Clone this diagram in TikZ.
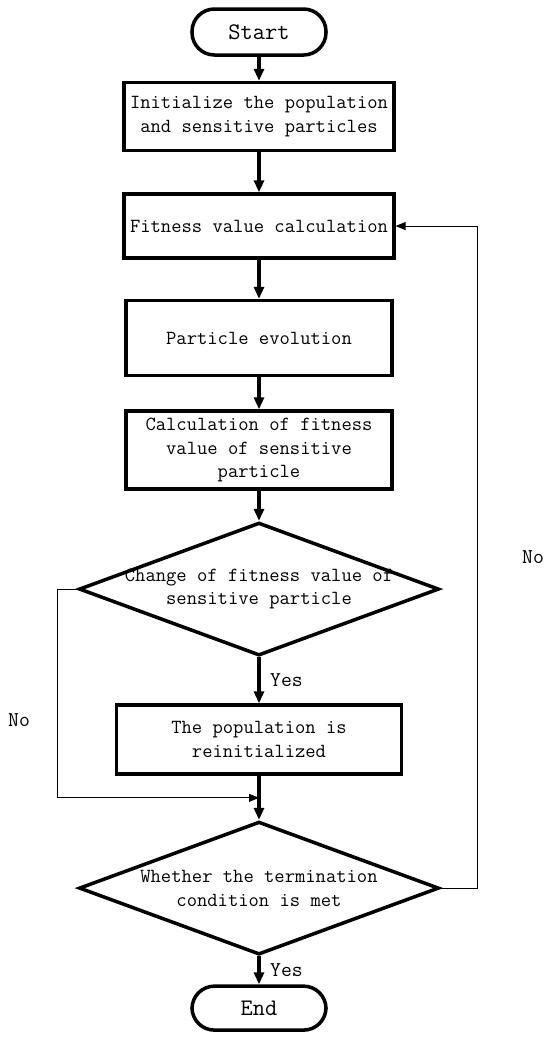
\documentclass[tikz,border=0pt]{standalone}
\usetikzlibrary{shapes.geometric, arrows.meta, positioning, calc}

\newcommand{\ctrline}[1]{\makebox[40mm][c]{#1}}

\begin{document}
\begin{tikzpicture}
  [
  % terminal
  term/.style = {rectangle,
    rounded corners = 4.5mm,
    draw, line width = 2pt,
    font = \fontsize{13.5}{16}\ttfamily,
    minimum width = 26.8mm,
    minimum height = 9.2mm},
  % block
  block/.style = {rectangle,
    draw, line width = 2pt,
    align = center,
    minimum width = 53.2mm},
  % keputusan
  decide/.style = {diamond,
    draw, line width = 2pt,
    align = center, inner sep = 0pt,
    aspect = 2.7,
    minimum width = 72mm,
    minimum height = 26.6mm},
  % line
  line/.style = {draw, line width = 2pt,
    -{Triangle[length = 2.4mm, width = 2mm]}},
  thinline/.style = {draw, line width = 0.5pt,
    -{Triangle[length = 2mm, width = 1.6mm]}},
  lbl/.style = {font = \fontsize{12}{14}\ttfamily},
  % distance
  every node/.style = {font = \fontsize{11.4}{13.5}\ttfamily},
  node distance = 5mm,
  ]

  \useasboundingbox (0,0) rectangle (11,-20.74);

  % nodes
  \node [term] (start) at (5.18,-0.64) {Start};
  \node [block, below = 4.8mm of start, minimum height = 13.6mm] (init)
    {Initialize the population\\and sensitive particles};
  \node [block, below = 8mm of init, minimum height = 12.8mm] (fit)
    {Fitness value calculation};
  \node [block, below = 7.8mm of fit, minimum height = 15mm] (evo)
    {Particle evolution};
  \node [block, below = 6.4mm of evo, minimum height = 15.6mm] (calcfit)
    {Calculation of fitness\\value of sensitive\\particle};
  \node [decide, below = 6mm of calcfit] (change)
    {\ctrline{Change of fitness value of}\\\ctrline{sensitive particle}};
  \node [block, below = 9.2mm of change, minimum width = 57mm,
    minimum height = 13.8mm] (reinit)
    {The population is\\reinitialized};
  \node [decide, below = 8.8mm of reinit] (stop)
    {\ctrline{Whether the termination}\\\ctrline{condition is met}};
  \node [term, below = 5.6mm of stop, minimum height = 8.8mm] (end) {End};

  \coordinate (join) at ($(reinit.south)!0.5!(stop.north)$);

  % labels
  \node [lbl, right = 1mm of $(change.south)!0.5!(reinit.north)$] (yesa) {Yes};
  \node [lbl, right = 1mm of $(stop.south)!0.5!(end.north)$] (yesb) {Yes};
  \node [lbl] (noa) at (0.38,-14.4) {No};
  \node [lbl] (nob) at (10.66,-11.14) {No};

  % path
  \path [line] (start) -- (init);
  \path [line] (init) -- (fit);
  \path [line] (fit) -- (evo);
  \path [line] (evo) -- (calcfit);
  \path [line] (calcfit) -- (change);
  \path [line] (change) -- (reinit);
  \path [draw, line width = 2pt] (reinit.south) -- (join);
  \path [line] (join) -- (stop);
  \path [line] (stop) -- (end);
  \path [thinline] (change.west) -- ++(-0.4,0) |- (join);
  \path [thinline] (stop.east) -- ++(0.74,0) |- (fit.east);

\end{tikzpicture}
\end{document}
